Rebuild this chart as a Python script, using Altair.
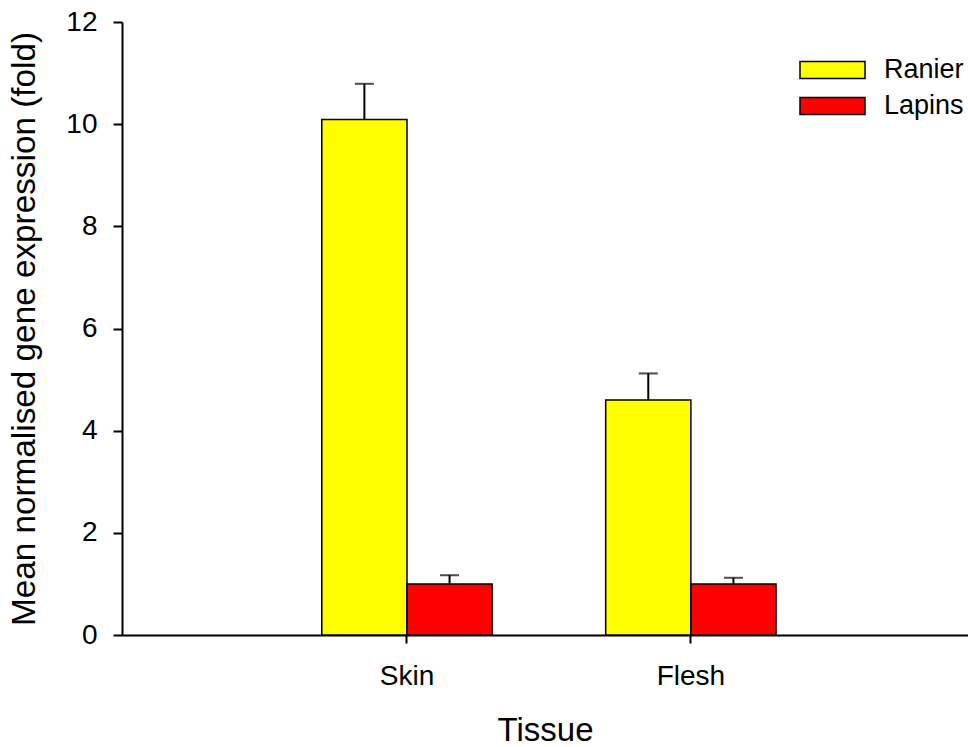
import altair as alt
import pandas as pd

# Mean normalised expression per tissue and cultivar, with upper error (SE)
tissues = ["Skin", "Flesh"]
cultivars = ["Ranier", "Lapins"]
ranier_mean = [10.09, 4.60]
ranier_err = [0.70, 0.52]
lapins_mean = [1.00, 1.00]
lapins_err = [0.17, 0.12]
colors = ["#ffff00", "#ff0000"]

rows = []
for i, t in enumerate(tissues):
    rows.append({"tissue": t, "cultivar": "Ranier", "mean": ranier_mean[i], "err": ranier_err[i]})
    rows.append({"tissue": t, "cultivar": "Lapins", "mean": lapins_mean[i], "err": lapins_err[i]})
df = pd.DataFrame(rows)
df["upper"] = df["mean"] + df["err"]

FONT = "Liberation Sans"

x_enc = alt.X(
    "tissue:N",
    sort=tissues,
    scale=alt.Scale(paddingInner=0.4, paddingOuter=0.69, align=0.51),
    axis=alt.Axis(
        title="Tissue",
        labelAngle=0,
        labelFontSize=28,
        labelFont=FONT,
        labelColor="black",
        labelBaseline="alphabetic",
        labelPadding=41,
        tickSize=8,
        tickWidth=2,
        tickColor="black",
        domainColor="black",
        domainWidth=2,
        titleFont=FONT,
        titleFontSize=33,
        titleFontWeight="normal",
        titleColor="black",
        titleBaseline="alphabetic",
        titleY=105,
        grid=False,
    ),
)
xoff = alt.XOffset("cultivar:N", sort=cultivars, scale=alt.Scale(paddingInner=0, paddingOuter=0))
y_scale = alt.Scale(domain=[0, 12], nice=False)
y_axis = alt.Axis(
    title="Mean normalised gene expression (fold)",
    values=[0, 2, 4, 6, 8, 10, 12],
    labelFontSize=28,
    labelFont=FONT,
    labelColor="black",
    labelPadding=16,
    tickSize=9,
    tickWidth=2,
    tickColor="black",
    domainColor="black",
    domainWidth=2,
    titleFont=FONT,
    titleFontSize=33.3,
    titleFontWeight="normal",
    titleColor="black",
    titleBaseline="alphabetic",
    titleX=-88,
    titleY=306.5,
    grid=False,
)

base = alt.Chart(df).encode(x=x_enc, xOffset=xoff)

bars = base.mark_bar(stroke="black", strokeWidth=1.5).encode(
    y=alt.Y("mean:Q", scale=y_scale, axis=y_axis),
    color=alt.Color(
        "cultivar:N",
        sort=cultivars,
        scale=alt.Scale(domain=cultivars, range=colors),
        legend=alt.Legend(
            title=None,
            orient="none",
            legendX=677,
            legendY=30,
            symbolType="M-1,-0.26L1,-0.26L1,0.26L-1,0.26Z",
            symbolSize=4225,
            symbolStrokeColor="black",
            symbolStrokeWidth=1.5,
            symbolOpacity=1,
            clipHeight=36,
            rowPadding=0,
            labelOffset=18,
            labelFont=FONT,
            labelFontSize=27,
            labelColor="black",
            labelLimit=300,
            padding=0,
        ),
    ),
)

stems = base.mark_rule(color="black", strokeWidth=2).encode(
    y=alt.Y("mean:Q", scale=y_scale, axis=y_axis),
    y2="upper:Q",
)

caps = base.mark_tick(color="black", thickness=2, size=19, orient="horizontal").encode(
    y=alt.Y("upper:Q", scale=y_scale, axis=y_axis),
)

# background first, then view/axis settings (configure() replaces the whole config)
chart = (
    alt.layer(bars, stems, caps)
    .properties(
        width=846,
        height=613,
        autosize=alt.AutoSizeParams(type="none"),
        padding={"left": 122, "top": 22, "right": 0, "bottom": 112},
    )
    .configure(background="white")
    .configure_view(strokeWidth=0, stroke="transparent")
    .configure_axis(grid=False)
)

chart.save("out.html", embed_options={"renderer": "svg", "actions": False})
